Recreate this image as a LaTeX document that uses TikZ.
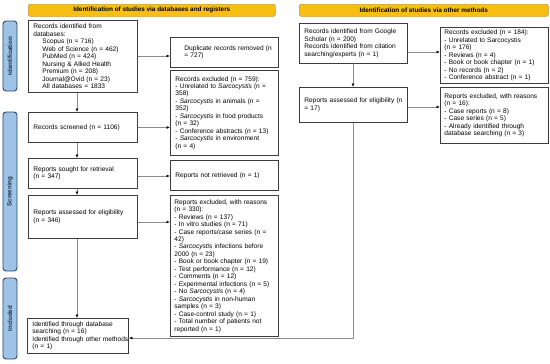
\documentclass[tikz,border=0pt]{standalone}
\usepackage{fontspec}
\setmainfont{Liberation Sans}
\usetikzlibrary{arrows.meta}
\hyphenpenalty=10000
\exhyphenpenalty=10000
\definecolor{hdrfill}{RGB}{247,190,20}
\definecolor{hdrline}{RGB}{205,155,35}
\definecolor{sidefill}{RGB}{157,195,230}
\definecolor{sideline}{RGB}{47,70,110}
\definecolor{sidetext}{RGB}{30,45,75}
\definecolor{boxline}{RGB}{60,60,60}
\definecolor{conn}{RGB}{140,140,140}
\tikzset{
 box/.style={draw=boxline, line width=0.9bp, fill=white, font=\fontsize{6.6}{7.5}\selectfont, align=left, inner xsep=5bp, inner ysep=0bp, anchor=north west},
 hdr/.style={draw=hdrline, fill=hdrfill, rounded corners=2bp, font=\fontsize{6.4}{7}\selectfont\bfseries, anchor=north west, inner sep=0pt, line width=0.6bp},
 sidebar/.style={draw=sideline, fill=sidefill, rounded corners=3bp, line width=0.9bp, inner sep=0pt, rotate=90, font=\fontsize{6.2}{7}\selectfont\bfseries, text=sidetext, minimum height=14bp},
 arr/.style={draw=conn, line width=0.8bp, -{Latex[length=3.5bp,width=3bp,color=black]}},
}
\begin{document}
\begin{tikzpicture}[x=1bp,y=-1bp]
\useasboundingbox (0,0) rectangle (550,363);
% headers
\node[hdr, minimum width=247bp, minimum height=12bp] (h1) at (28,4) {Identification of studies via databases and registers};
\node[hdr, minimum width=249bp, minimum height=12bp] (h2) at (299,4) {Identification of studies via other methods};
% side bars
\node[sidebar, minimum width=70bp] (s1) at (10,56) {Identification};
\node[sidebar, minimum width=159bp] (s2) at (10,191.5) {Screening};
\node[sidebar, minimum width=81bp] (s3) at (10,318.5) {Included};
% left column
\node[box, text width=99bp, minimum width=109bp, minimum height=72bp] (b1) at (28,20) {Records identified from\\databases:\\\hspace*{9bp}Scopus (n = 716)\\\hspace*{9bp}Web of Science (n = 462)\\\hspace*{9bp}PubMed (n = 424)\\\hspace*{9bp}Nursing \& Allied Health\\\hspace*{9bp}Premium (n = 208)\\\hspace*{9bp}Journal@Ovid (n = 23)\\\hspace*{9bp}All databases = 1833};
\node[box, text width=100bp, inner xsep=4bp, minimum width=108bp, minimum height=30bp] (dup) at (170,37) {\hspace*{10bp}Duplicate records removed (n\\\hspace*{10bp}= 727)};
\node[box, text width=98bp, minimum width=108bp, minimum height=85bp] (ex1) at (170,70) {Records excluded (n = 759):\\- Unrelated to \textit{Sarcocystis} (n =\\358)\\- \textit{Sarcocystis} in animals (n =\\352)\\- \textit{Sarcocystis} in food products\\(n = 32)\\- Conference abstracts (n = 13)\\- \textit{Sarcocystis} in environment\\(n = 4)};
\node[box, text width=99bp, minimum width=109bp, minimum height=30bp] (scr) at (28,112) {Records screened (n = 1106)};
\node[box, text width=99bp, minimum width=109bp, minimum height=30bp] (sou) at (28,158) {Reports sought for retrieval\\(n = 347)};
\node[box, text width=98bp, minimum width=108bp, minimum height=30bp] (nr) at (170,160) {Reports not retrieved (n = 1)};
\node[box, text width=99bp, minimum width=109bp, minimum height=43bp] (ass) at (28,195) {Reports assessed for eligibility\\(n = 346)};
\node[box, text width=100bp, inner xsep=4bp, minimum width=108bp, minimum height=141bp] (ex2) at (170,195) {Reports excluded, with reasons\\(n = 330):\\- Reviews (n = 137)\\- In vitro studies (n = 71)\\- Case reports/case series (n =\\42)\\- \textit{Sarcocystis} infections before\\2000 (n = 23)\\- Book or book chapter (n = 19)\\- Test performance (n = 12)\\- Comments (n = 12)\\- Experimental infections (n = 5)\\- No \textit{Sarcocystis} (n = 4)\\- \textit{Sarcocystis} in non-human\\samples (n = 3)\\- Case-control study (n = 1)\\- Total number of patients not\\reported (n = 1)};
\node[box, text width=100bp, inner xsep=0.5bp, minimum width=101bp, minimum height=35bp] (inc) at (27,318) {\hspace*{4.5bp}Identified through database\\\hspace*{4.5bp}searching (n = 16)\\\hspace*{4.5bp}\mbox{Identified through other methods}\\\hspace*{4.5bp}(n = 1)};
% right column
\node[box, text width=100bp, inner xsep=4bp, minimum width=108bp, minimum height=40bp] (gs) at (299,23) {\hspace*{1bp}Records identified from Google\\\hspace*{1bp}Scholar (n = 200)\\\hspace*{1bp}Records identified from citation\\\hspace*{1bp}searching/experts (n = 1)};
\node[box, text width=100bp, inner xsep=4bp, minimum width=108bp, minimum height=56bp] (ex3) at (440,27) {Records excluded (n = 184):\\- Unrelated to Sarcocystis\\(n = 176)\\- Reviews (n = 4)\\- Book or book chapter (n = 1)\\- No records (n = 2)\\- Conference abstract (n = 1)};
\node[box, text width=100bp, inner xsep=4bp, minimum width=108bp, minimum height=35bp] (ra) at (299,87) {\hspace*{1bp}Reports assessed for eligibility (n\\\hspace*{1bp}= 17)\\[6bp]};
\node[box, text width=100bp, inner xsep=4bp, minimum width=108bp, minimum height=56bp] (ex4) at (440,87) {Reports excluded, with reasons\\(n = 16):\\- Case reports (n = 8)\\- Case series (n = 5)\\- Already identified through\\database searching (n = 3)};
% connectors
\coordinate (lx) at (77,0);
\coordinate (rx) at (353,0);
\draw[arr] (lx |- b1.south) -- (lx |- scr.north);
\draw[arr] (lx |- scr.south) -- (lx |- sou.north);
\draw[arr] (lx |- sou.south) -- (lx |- ass.north);
\draw[arr] (lx |- ass.south) -- (lx |- inc.north);
\coordinate (y1) at (0,56);
\draw[arr] (b1.east |- y1) -- (dup.west |- y1);
\draw[arr] (scr.east) -- (scr.east -| ex1.west);
\coordinate (y2) at (0,176);
\draw[arr] (sou.east |- y2) -- (nr.west |- y2);
\coordinate (y3) at (0,222);
\draw[arr] (ass.east |- y3) -- (ex2.west |- y3);
\coordinate (y4) at (0,52);
\draw[arr] (gs.east |- y4) -- (ex3.west |- y4);
\draw[arr] (rx |- gs.south) -- (rx |- ra.north);
\coordinate (y5) at (0,107);
\draw[arr] (ra.east |- y5) -- (ex4.west |- y5);
\coordinate (y6) at (0,338);
\draw[arr] (rx |- ra.south) -- (rx |- y6) -- (inc.east |- y6);
\end{tikzpicture}
\end{document}
